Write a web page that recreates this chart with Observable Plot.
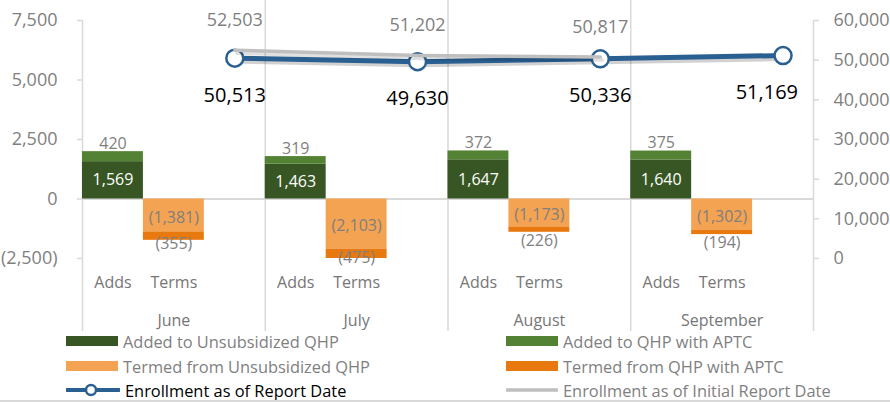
<!DOCTYPE html>
<html>
<head>
<meta charset="utf-8">
<script src="https://cdn.jsdelivr.net/npm/d3@7"></script>
<script src="https://cdn.jsdelivr.net/npm/@observablehq/plot@0.6"></script>
<style>
  html, body { margin: 0; padding: 0; background: #fff; }
  body { font-family: "Open Sans", sans-serif; }
  #wrap { position: relative; width: 890px; height: 403px; overflow: hidden; background: #fff; }
  #chart svg { display: block; }
  g[aria-label="bars"] { filter: drop-shadow(3px 3px 3px rgba(0,0,0,0.35)); }
  g[aria-label="enroll-dots"] { filter: drop-shadow(2px 3px 2px rgba(0,0,0,0.35)); }
  .leg { position: absolute; display: flex; align-items: center; font-size: 16.4px; color: #7f7f7f; white-space: nowrap; height: 22px; }
  .leg svg { margin-right: 5px; flex: none; }
  #bottomline { position: absolute; left: 0; top: 400px; width: 890px; height: 2px; background: #d9d9d9; }
</style>
</head>
<body>
<div id="wrap">
  <div id="chart"></div>
  <div id="legend"></div>
  <div id="bottomline"></div>
</div>
<script>
// ---- data ----
const months = ["June", "July", "August", "September"];
const subCategories = ["Adds", "Terms"];
const addedUnsubsidized = [1569, 1463, 1647, 1640];
const addedAPTC = [420, 319, 372, 375];
const termedUnsubsidized = [1381, 2103, 1173, 1302];
const termedAPTC = [355, 475, 226, 194];
const enrollment = [50513, 49630, 50336, 51169];
const enrollmentInitial = [52503, 51202, 50817];
const leftTicks = [-2500, 0, 2500, 5000, 7500];
const rightTicks = [0, 10000, 20000, 30000, 40000, 50000, 60000];
const seriesNames = [
  "Added to Unsubsidized QHP", "Added to QHP with APTC",
  "Termed from Unsubsidized QHP", "Termed from QHP with APTC",
  "Enrollment as of Report Date", "Enrollment as of Initial Report Date"
];
const seriesColors = ["#375623", "#548235", "#F4A352", "#E8790E", "#2A5F92", "#BFBFBF"];

// ---- helpers ----
const W = 890, H = 332, mTop = 20, mBottom = 74, mLeft = 82, mRight = 77;
const yMin = -2500, yMax = 7500, rMax = 60000;
const unitsPerPx = (yMax - yMin) / (H - mTop - mBottom);
const r2l = v => yMin + v / rMax * (yMax - yMin);
const l2r = v => (v - yMin) / (yMax - yMin) * rMax;
const comma = d3.format(",");
const fmtParen = v => v < 0 ? "(" + comma(-v) + ")" : comma(v);
const slotsPerMonth = 3;
const nSlots = months.length * slotsPerMonth;
const clampY = v => Math.max(yMin, v);

const bars = [];
months.forEach((m, i) => {
  const a = i * slotsPerMonth, t = a + 1;
  bars.push({series: seriesNames[0], x1: a, x2: a + 1, y1: 0, y2: addedUnsubsidized[i], v: addedUnsubsidized[i]});
  bars.push({series: seriesNames[1], x1: a, x2: a + 1, y1: addedUnsubsidized[i], y2: addedUnsubsidized[i] + addedAPTC[i], v: addedAPTC[i]});
  bars.push({series: seriesNames[2], x1: t, x2: t + 1, y1: 0, y2: -termedUnsubsidized[i], v: -termedUnsubsidized[i]});
  const lightCenter = -termedUnsubsidized[i] / 2;
  const darkCenter = (clampY(-termedUnsubsidized[i]) + clampY(-termedUnsubsidized[i] - termedAPTC[i])) / 2;
  bars.push({series: seriesNames[3], x1: t, x2: t + 1, y1: -termedUnsubsidized[i], y2: -termedUnsubsidized[i] - termedAPTC[i], v: -termedAPTC[i],
    labelY: Math.min(darkCenter, lightCenter - 24 * unitsPerPx)});
});
const bySeries = s => bars.filter(d => d.series === s);
const mid = d => (d.x1 + d.x2) / 2;

const enrollRows = enrollment.map((v, i) => ({x: i * slotsPerMonth + 2.5, y: r2l(v), v}));
const initialRows = enrollmentInitial.map((v, i) => ({x: i * slotsPerMonth + 2.5, y: r2l(v), v}));
const nearRight = d => d.x > nSlots - 1;
const subRows = [];
months.forEach((m, i) => subCategories.forEach((s, j) => subRows.push({x: i * slotsPerMonth + j + 0.5, label: s})));
const monthRows = months.map((m, i) => ({x: i * slotsPerMonth + 1.5, label: m}));
const boundaries = d3.range(0, nSlots + 1, slotsPerMonth);
const outerB = [boundaries[0], boundaries[boundaries.length - 1]];
const innerB = boundaries.slice(1, -1);

const grid = "#d9d9d9", textGray = "#7f7f7f";

const chart = Plot.plot({
  width: W,
  height: H,
  marginLeft: mLeft,
  marginRight: mRight,
  marginTop: mTop,
  marginBottom: mBottom,
  x: {domain: [0, nSlots], axis: null},
  y: {domain: [yMin, yMax], axis: null},
  color: {domain: seriesNames, range: seriesColors},
  style: {fontFamily: "'Open Sans', sans-serif", overflow: "visible", background: "#fff"},
  marks: [
    Plot.ruleX(outerB, {stroke: grid, strokeWidth: 1.5, insetBottom: -73}),
    Plot.ruleX(innerB, {stroke: grid, strokeWidth: 1.5, insetTop: -20, insetBottom: -73}),
    Plot.ruleY([0], {stroke: grid, strokeWidth: 2}),
    Plot.axisY({ticks: leftTicks, tickFormat: fmtParen, tickSize: 5, tickPadding: 20,
      fontSize: 18, stroke: grid, fill: textGray, strokeWidth: 1.5}),
    Plot.axisY({anchor: "right", ticks: rightTicks.map(r2l), tickFormat: d => comma(Math.round(l2r(d))),
      tickSize: 5, tickPadding: 15, fontSize: 18, stroke: grid, fill: textGray, strokeWidth: 1.5}),
    Plot.rect(bars, {x1: "x1", x2: "x2", y1: "y1", y2: "y2", fill: "series", clip: true, ariaLabel: "bars"}),
    // bar labels
    Plot.text(bySeries(seriesNames[0]), {x: mid, y: d => (d.y1 + d.y2) / 2, text: d => fmtParen(d.v), fill: "white", fontSize: 16}),
    Plot.text(bySeries(seriesNames[1]), {x: mid, y: "y2", text: d => fmtParen(d.v), fill: textGray, fontSize: 16, dy: -8}),
    Plot.text(bySeries(seriesNames[2]), {x: mid, y: d => (d.y1 + d.y2) / 2, text: d => fmtParen(d.v), fill: textGray, fontSize: 16, dy: 2}),
    Plot.text(bySeries(seriesNames[3]), {x: mid, y: "labelY", text: d => fmtParen(d.v), fill: textGray, fontSize: 16, dy: 4}),
    // category labels
    Plot.text(subRows, {x: "x", text: "label", frameAnchor: "bottom", lineAnchor: "middle", dy: 24, fill: "#767676", fontSize: 16}),
    Plot.text(monthRows, {x: "x", text: "label", frameAnchor: "bottom", lineAnchor: "middle", dy: 62, fill: "#767676", fontSize: 16}),
    // enrollment lines
    Plot.line(enrollRows, {x: "x", y: "y", stroke: "rgba(0,0,0,0.18)", strokeWidth: 5, dx: 2, dy: 3}),
    Plot.line(enrollRows, {x: "x", y: "y", stroke: seriesColors[4], strokeWidth: 5}),
    Plot.dot(enrollRows, {x: "x", y: "y", r: 8.5, fill: "white", stroke: seriesColors[4], strokeWidth: 2.5, ariaLabel: "enroll-dots"}),
    Plot.line(initialRows, {x: "x", y: "y", stroke: "rgba(0,0,0,0.12)", strokeWidth: 3.5, dx: 2, dy: 3}),
    Plot.line(initialRows, {x: "x", y: "y", stroke: seriesColors[5], strokeWidth: 3.5}),
    Plot.text(enrollRows.filter(d => !nearRight(d)), {x: "x", y: "y", text: d => comma(d.v), dy: 37, fontSize: 20, fill: "#000"}),
    Plot.text(enrollRows.filter(nearRight), {x: "x", y: "y", text: d => comma(d.v), dy: 37, dx: 15, textAnchor: "end", fontSize: 20, fill: "#000"}),
    Plot.text(initialRows, {x: "x", y: "y", text: d => comma(d.v), dy: -30, fontSize: 18, fill: textGray})
  ]
});
document.getElementById("chart").appendChild(chart);

// ---- legend ----
const legend = document.getElementById("legend");
const legendCols = [66, 506];
const legendRows = [341, 366, 390];
const order = [[0, 1], [2, 3], [4, 5]];
order.forEach((pair, r) => pair.forEach((si, c) => {
  const item = document.createElement("div");
  item.className = "leg";
  item.style.left = legendCols[c] + "px";
  item.style.top = (legendRows[r] - 11) + "px";
  let sw;
  if (si < 4) {
    sw = `<svg width="52" height="12"><rect x="0" y="1" width="52" height="10" fill="${seriesColors[si]}"/></svg>`;
  } else if (si === 4) {
    sw = `<svg width="54" height="16"><line x1="1" y1="8" x2="53" y2="8" stroke="${seriesColors[4]}" stroke-width="4" stroke-linecap="round"/><circle cx="25" cy="8" r="5" fill="white" stroke="${seriesColors[4]}" stroke-width="2.5"/></svg>`;
  } else {
    sw = `<svg width="52" height="12"><line x1="1" y1="6" x2="51" y2="6" stroke="${seriesColors[5]}" stroke-width="3.5" stroke-linecap="round"/></svg>`;
  }
  item.innerHTML = sw + `<span style="color:${si === 4 ? "#000" : "#7f7f7f"}">${seriesNames[si]}</span>`;
  legend.appendChild(item);
}));
</script>
</body>
</html>
